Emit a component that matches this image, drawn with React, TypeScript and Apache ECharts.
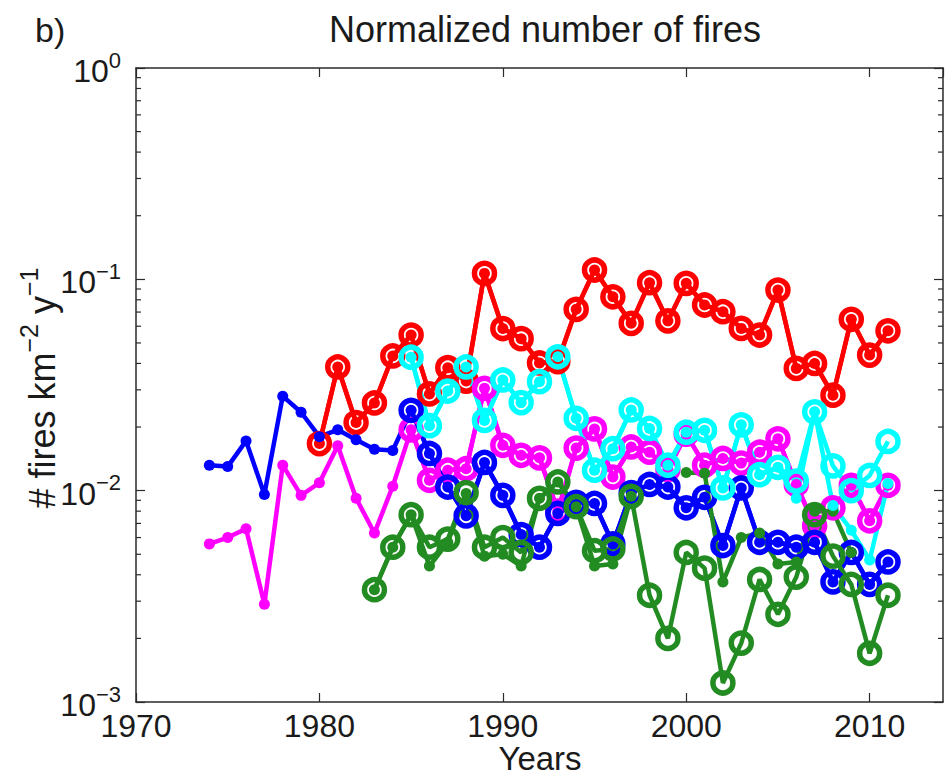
import React, { useEffect, useRef } from "react";
import * as echarts from "echarts";

// ---- data ----
const redStart = 1980;
const redCircles = [0.0167, 0.0385, 0.021, 0.026, 0.0434, 0.0545, 0.0287, 0.0382, 0.033, 0.1067, 0.0585, 0.0524, 0.0402, 0.0408, 0.0721, 0.1107, 0.0827, 0.0619, 0.0964, 0.0636, 0.0957, 0.0756, 0.0703, 0.0586, 0.0545, 0.089, 0.0379, 0.04, 0.0283, 0.0647, 0.0438, 0.0571];
const redDots = redCircles;

const magentaDotStart = 1974;
const magentaDots = [0.0056, 0.006, 0.0066, 0.0029, 0.0132, 0.0095, 0.0109, 0.0163, 0.0092, 0.0063, 0.0105, 0.0194, 0.0112, 0.0125, 0.0127, 0.0305, 0.0164, 0.0147, 0.0143, 0.008, 0.0159, 0.0196, 0.0116, 0.0161, 0.0152, 0.0126, 0.0185, 0.0132, 0.0142, 0.0135, 0.0152, 0.0176, 0.0107, 0.0068, 0.0083, 0.0106, 0.0072, 0.0106];
const magentaCircleStart = 1985;
const magentaCircles = [0.0194, 0.0112, 0.0125, 0.0127, 0.0305, 0.0164, 0.0147, 0.0143, 0.008, 0.0159, 0.0196, 0.0116, 0.0161, 0.0152, 0.0126, 0.0185, 0.0132, 0.0142, 0.0135, 0.0152, 0.0176, 0.0107, 0.0068, 0.0083, 0.0106, 0.0072, 0.0106];

const blueDotStart = 1974;
const blueDots = [0.0132, 0.013, 0.0172, 0.0096, 0.028, 0.0235, 0.018, 0.0194, 0.0174, 0.0157, 0.0155, 0.024, 0.015, 0.0104, 0.0076, 0.0136, 0.0095, 0.0062, 0.0054, 0.0078, 0.0088, 0.0087, 0.0056, 0.0098, 0.0107, 0.0104, 0.0083, 0.0093, 0.0055, 0.0103, 0.0057, 0.0057, 0.0054, 0.0057, 0.0037, 0.0051, 0.0036, 0.0046];
const blueCircleStart = 1985;
const blueCircles = [0.024, 0.015, 0.0104, 0.0076, 0.0136, 0.0095, 0.0062, 0.0054, 0.0078, 0.0088, 0.0087, 0.0056, 0.0098, 0.0107, 0.0104, 0.0083, 0.0093, 0.0055, 0.0103, 0.0057, 0.0057, 0.0054, 0.0057, 0.0037, 0.0051, 0.0036, 0.0046];

const greenStart = 1983;
const greenCircles = [0.0034, 0.0054, 0.0077, 0.0054, 0.0059, 0.0098, 0.0054, 0.006, 0.0051, 0.0092, 0.011, 0.0084, 0.0052, 0.0053, 0.0094, 0.0032, 0.002, 0.0051, 0.0043, 0.00123, 0.0019, 0.0038, 0.0026, 0.0039, 0.0077, 0.0049, 0.0036, 0.0017, 0.0032];
const greenDots = [0.0034, 0.0054, 0.0077, 0.0044, 0.0057, 0.0097, 0.0049, 0.005, 0.0044, 0.0092, 0.011, 0.0084, 0.0044, 0.0045, 0.0094, null, null, 0.0122, 0.0121, 0.0037, 0.006, 0.0063, 0.0045, 0.0046, 0.008, 0.008, 0.0051];

const cyanStart = 1985;
const cyanCircles = [0.0428, 0.0203, 0.0296, 0.0385, 0.0215, 0.0334, 0.0261, 0.0328, 0.043, 0.022, 0.0125, 0.0158, 0.0241, 0.0197, 0.0132, 0.0189, 0.0193, 0.0103, 0.0205, 0.0119, 0.0129, 0.0111, 0.0236, 0.0131, 0.01, 0.0118, 0.0171];
const cyanDots = [0.0428, 0.0203, 0.0296, 0.0385, 0.0215, 0.0334, 0.0261, 0.0328, 0.043, 0.022, 0.0125, 0.0158, 0.0241, 0.0197, 0.0132, 0.0189, 0.0193, 0.0103, 0.0205, 0.0119, 0.0129, 0.0092, 0.0236, 0.0085, 0.0065, 0.0047, 0.0108];

const xTicks = [1970, 1980, 1990, 2000, 2010];
const titleText = "Normalized number of fires";
const panelLabel = "b)";
const xName = "Years";
const yNameRich = "{b|# fires km}{s|\u22122}{b| y}{s|\u22121}";

const RED = "#ff0000";
const MAGENTA = "#ff00ff";
const BLUE = "#0000ff";
const GREEN = "#228b22";
const CYAN = "#00ffff";
const TEXT = "#1a1a1a";
const AXIS = "#2a2a2a";
const FONT = "Liberation Sans";

function toData(start: number, vals: (number | null)[]) {
  return vals.map((v, i) => [start + i, v == null ? "-" : v]);
}

function circleSeries(start: number, vals: (number | null)[], color: string) {
  return {
    type: "line",
    data: toData(start, vals),
    symbol: "circle",
    symbolSize: 20,
    lineStyle: { color, width: 4.5 },
    itemStyle: { color: "rgba(0,0,0,0)", borderColor: color, borderWidth: 5.5 },
    connectNulls: false,
    silent: true,
  };
}

function dotSeries(start: number, vals: (number | null)[], color: string) {
  return {
    type: "line",
    data: toData(start, vals),
    symbol: "circle",
    symbolSize: 11,
    lineStyle: { color, width: 4.5 },
    itemStyle: { color, borderWidth: 0 },
    connectNulls: false,
    silent: true,
  };
}

const GRID = { left: 136, right: 2, top: 68, bottom: 73 };

export default function App() {
  const ref = useRef<HTMLDivElement>(null);
  useEffect(() => {
    document.body.style.margin = "0";
    if (!ref.current) return;
    const chart = echarts.init(ref.current, undefined, { renderer: "svg" });
    const yLabel = (v: number) => {
      const e = Math.round(Math.log10(v));
      const s = e === 0 ? "0" : "\u2212" + String(-e);
      return "{b|10}{s|" + s + "}";
    };
    const option: any = {
      animation: false,
      backgroundColor: "#ffffff",
      title: {
        text: titleText,
        left: 540,
        top: 6,
        textAlign: "center",
        textStyle: { fontFamily: FONT, fontSize: 36, fontWeight: "normal", color: TEXT },
      },
      grid: { ...GRID, containLabel: false, outerBoundsMode: "none" },
      xAxis: [
        {
          type: "value",
          min: 1970,
          max: 2014,
          interval: 10,
          axisLine: { show: true, onZero: false, lineStyle: { color: AXIS, width: 1.5 } },
          axisTick: { show: true, inside: true, length: 9, lineStyle: { color: AXIS, width: 1.2 } },
          axisLabel: {
            fontFamily: FONT,
            fontSize: 32,
            lineHeight: 30,
            color: TEXT,
            margin: 9,
            showMaxLabel: false,
            formatter: (v: number) => (xTicks.indexOf(v) >= 0 ? String(v) : ""),
          },
          splitLine: { show: false },
        },
        {
          type: "value",
          position: "top",
          min: 1970,
          max: 2014,
          interval: 10,
          axisLine: { show: true, onZero: false, lineStyle: { color: AXIS, width: 1.5 } },
          axisTick: { show: true, inside: true, length: 9, lineStyle: { color: AXIS, width: 1.2 } },
          axisLabel: { show: false },
          splitLine: { show: false },
        },
      ],
      yAxis: [
        {
          type: "log",
          logBase: 10,
          min: 0.001,
          max: 1,
          axisLine: { show: true, onZero: false, lineStyle: { color: AXIS, width: 1.5 } },
          axisTick: { show: true, inside: true, length: 9, lineStyle: { color: AXIS, width: 1.2 } },
          axisLabel: {
            margin: 15,
            formatter: yLabel,
            rich: {
              b: { fontFamily: FONT, fontSize: 32, color: TEXT, lineHeight: 38, verticalAlign: "bottom" },
              s: { fontFamily: FONT, fontSize: 22, color: TEXT, lineHeight: 16, verticalAlign: "top" },
            },
          },
          splitLine: { show: false },
        },
        {
          type: "log",
          logBase: 10,
          min: 0.001,
          max: 1,
          position: "right",
          axisLine: { show: true, onZero: false, lineStyle: { color: AXIS, width: 1.5 } },
          axisTick: { show: true, inside: true, length: 9, lineStyle: { color: AXIS, width: 1.2 } },
          axisLabel: { show: false },
          splitLine: { show: false },
        },
      ],
      series: [
        circleSeries(redStart, redCircles, RED),
        dotSeries(redStart, redDots, RED),
        circleSeries(magentaCircleStart, magentaCircles, MAGENTA),
        dotSeries(magentaDotStart, magentaDots, MAGENTA),
        circleSeries(blueCircleStart, blueCircles, BLUE),
        dotSeries(blueDotStart, blueDots, BLUE),
        circleSeries(greenStart, greenCircles, GREEN),
        dotSeries(greenStart, greenDots, GREEN),
        circleSeries(cyanStart, cyanCircles, CYAN),
        dotSeries(cyanStart, cyanDots, CYAN),
      ],
    };
    chart.setOption(option);

    // minor log ticks on left and right borders
    const graphics: any[] = [];
    const xl = GRID.left;
    const xr = 945 - GRID.right;
    for (let e = -3; e < 0; e++) {
      for (let m = 2; m <= 9; m++) {
        const v = m * Math.pow(10, e);
        const py = chart.convertToPixel({ yAxisIndex: 0 }, v) as number;
        graphics.push({
          type: "line",
          shape: { x1: xl, y1: py, x2: xl + 5, y2: py },
          style: { stroke: AXIS, lineWidth: 1.2 },
          silent: true,
        });
        graphics.push({
          type: "line",
          shape: { x1: xr - 5, y1: py, x2: xr, y2: py },
          style: { stroke: AXIS, lineWidth: 1.2 },
          silent: true,
        });
      }
    }
    graphics.push({
      type: "text",
      left: 35,
      top: 13,
      style: { text: panelLabel, fontFamily: FONT, fontSize: 34, fill: TEXT },
      silent: true,
    });
    // x-axis title
    graphics.push({
      type: "text",
      x: 540,
      y: 758,
      style: {
        text: xName,
        fontFamily: FONT,
        fontSize: 33,
        fill: TEXT,
        align: "center",
        verticalAlign: "middle",
      },
      silent: true,
    });
    // y-axis title (rotated, with superscripts)
    graphics.push({
      type: "text",
      x: 38,
      y: 388,
      rotation: Math.PI / 2,
      style: {
        text: yNameRich,
        align: "center",
        verticalAlign: "middle",
        rich: {
          b: { fontFamily: FONT, fontSize: 36, fill: TEXT, lineHeight: 44, verticalAlign: "bottom" },
          s: { fontFamily: FONT, fontSize: 25, fill: TEXT, lineHeight: 18, verticalAlign: "top" },
        },
      },
      silent: true,
    });
    chart.setOption({ graphic: graphics });

    return () => chart.dispose();
  }, []);
  return <div ref={ref} style={{ width: 945, height: 775 }} />;
}
